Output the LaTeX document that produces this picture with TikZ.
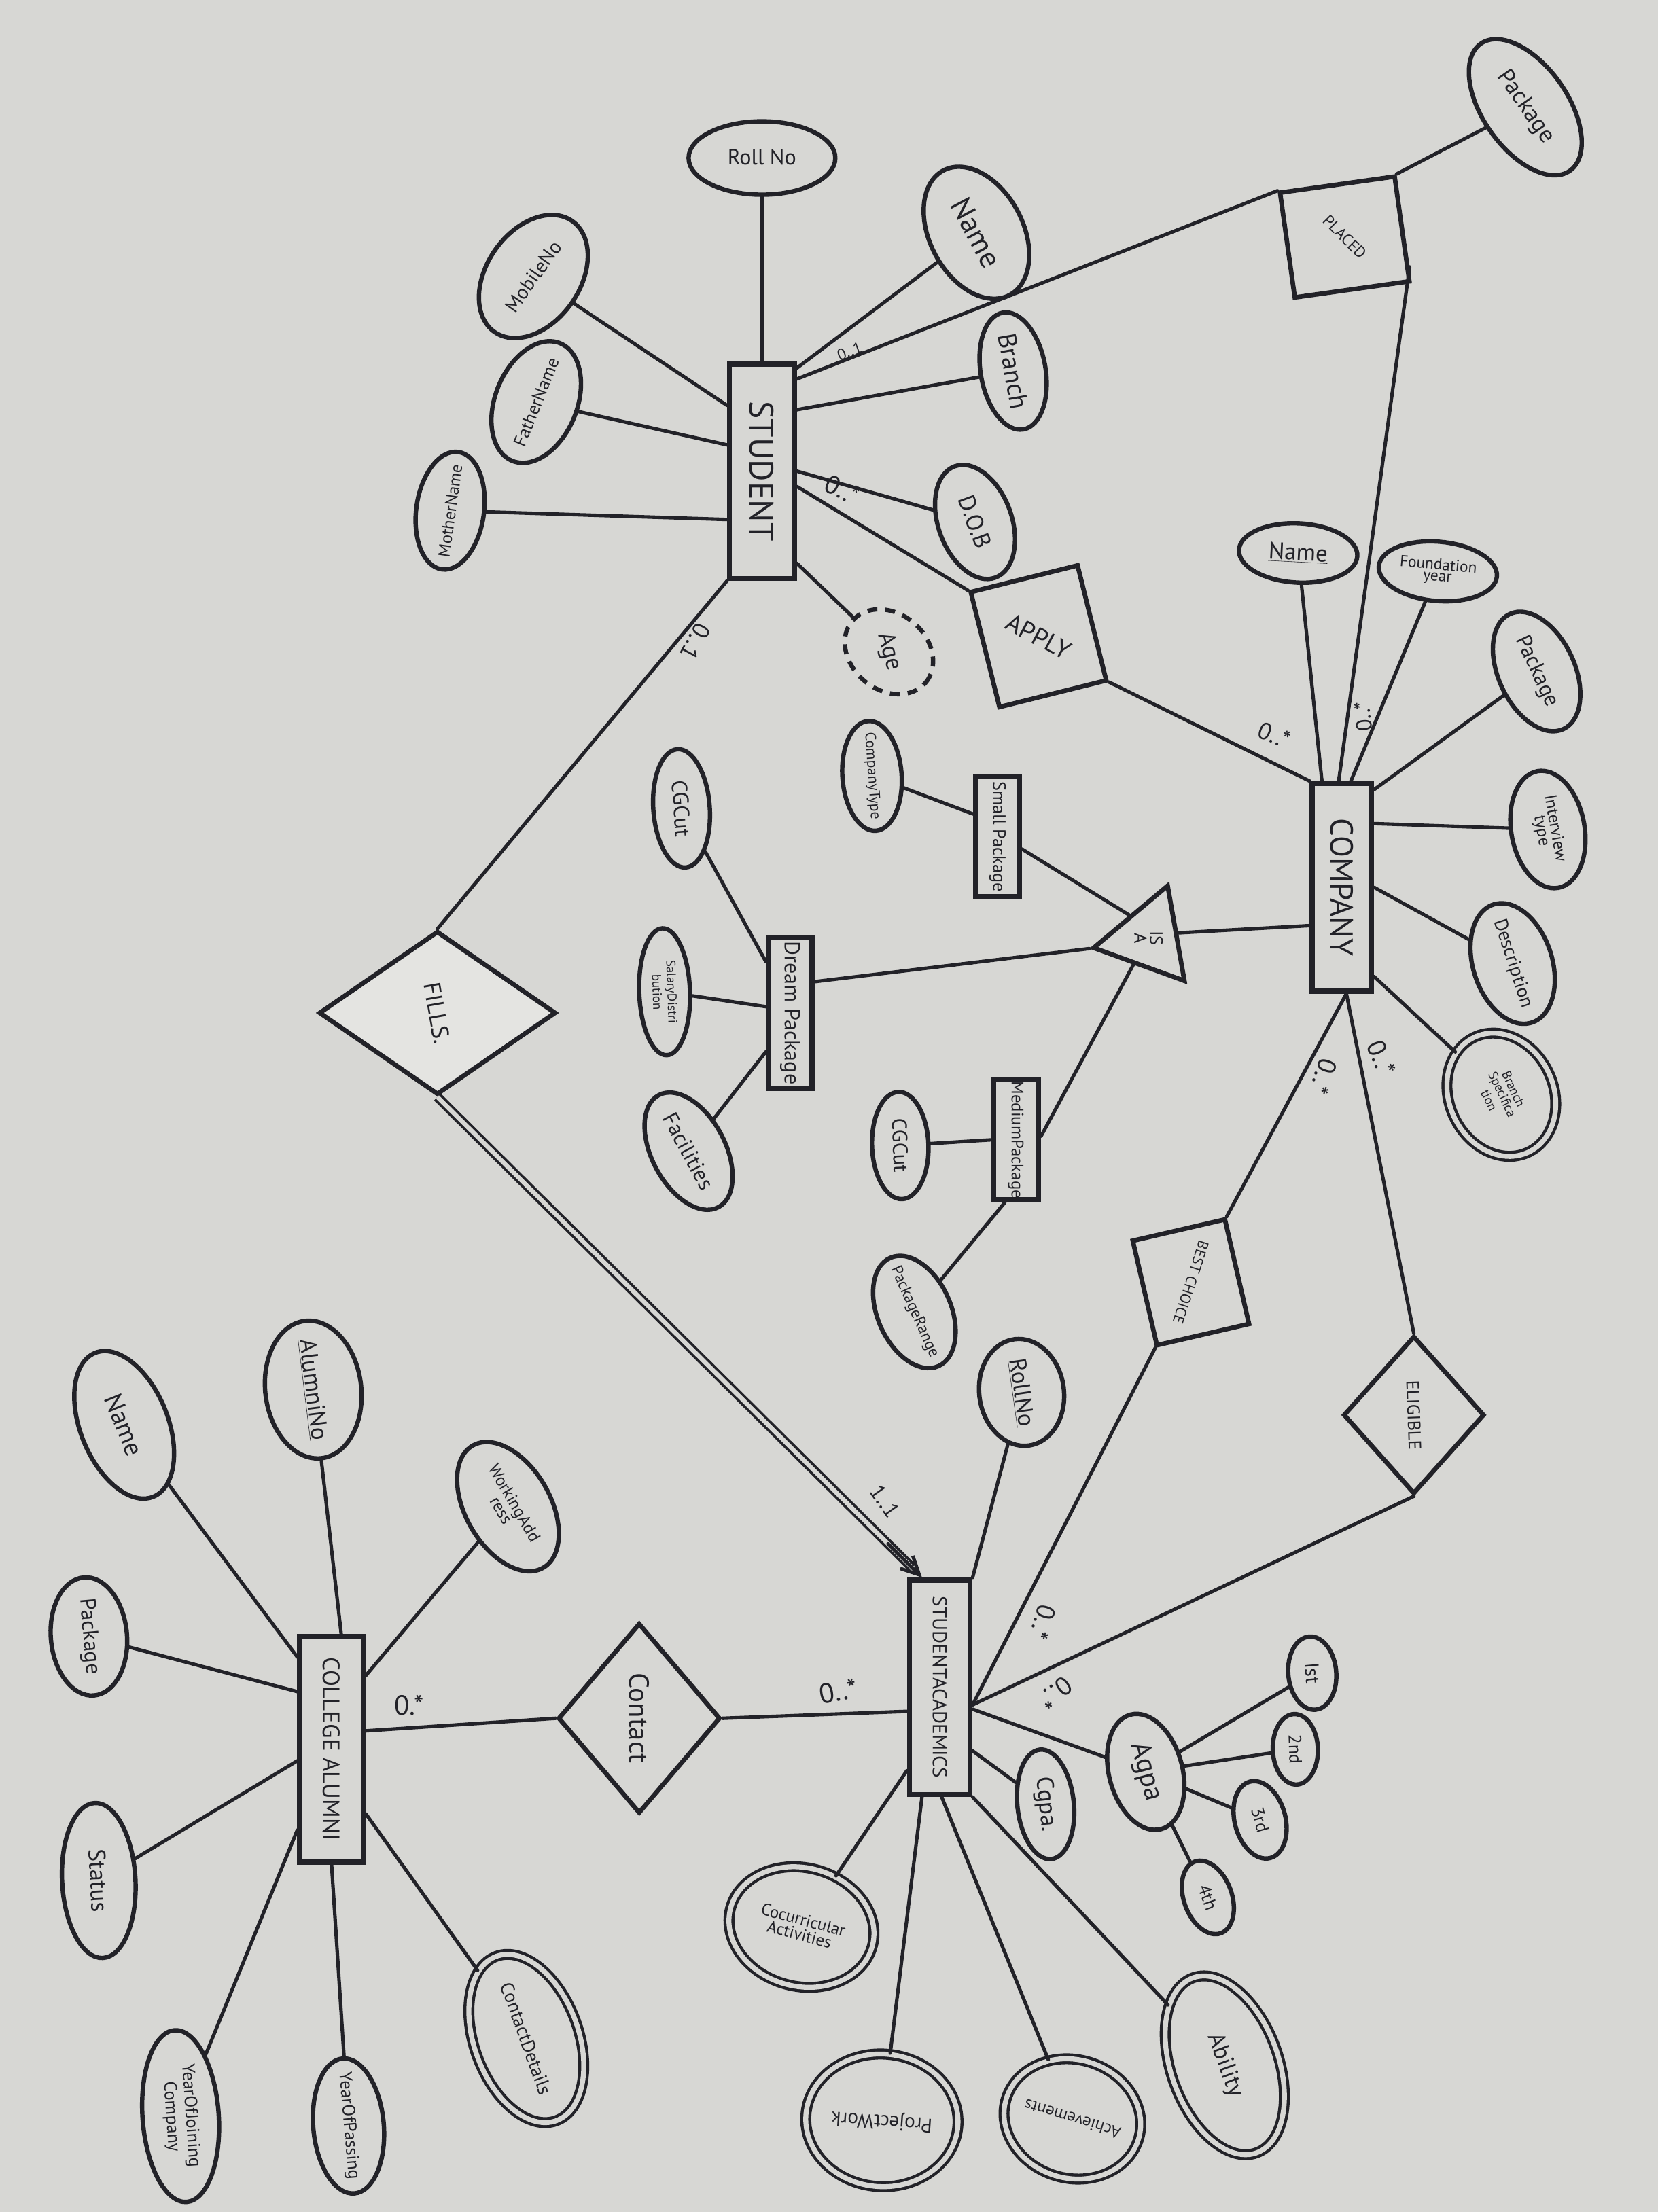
\documentclass[tikz,border=0pt]{standalone}
\usepackage{fontspec}
\setmainfont{PT Sans}
\usepackage{graphicx}
\usetikzlibrary{shapes.geometric,calc,arrows.meta}
\definecolor{paper}{RGB}{215,215,212}
\definecolor{inkc}{RGB}{34,34,40}
\definecolor{whiteout}{RGB}{228,228,225}
\newcommand{\fs}[1]{\fontsize{#1}{#1}\selectfont}
\newcommand{\zt}[1]{\makebox[0pt]{#1}}
\newcommand{\vt}[1]{\rotatebox{-90}{#1}}
\tikzset{
  ent/.style={rectangle, draw=inkc, line width=5.2pt, inner sep=0pt, text=inkc},
  attr/.style={ellipse, draw=inkc, line width=4.4pt, inner sep=0pt, text=inkc},
  multi/.style={attr, line width=3pt, double=paper, double distance=5pt},
  derived/.style={attr, dash pattern=on 10pt off 8pt},
  rel/.style={draw=inkc, line width=4.6pt, inner sep=0pt, text=inkc},
  conn/.style={draw=inkc, line width=3.5pt, line cap=round},
  card/.style={text=inkc, inner sep=0pt},
}
\begin{document}
\begin{tikzpicture}[x=0.05cm, y=-0.05cm]
\fill[paper] (0,0) rectangle (1175,1568);
\useasboundingbox (0,0) rectangle (1175,1568);

% ---------- entities ----------
\node[ent, minimum width=2.3cm, minimum height=7.6cm] (stu) at (540,334) {\vt{\fs{34}STUDENT}};
\node[ent, minimum width=2.1cm, minimum height=7.35cm] (comp) at (951,629) {\vt{\fs{32}COMPANY}};
\node[ent, minimum width=2.15cm, minimum height=7.6cm] (sa) at (666,1196) {\vt{\fs{20}STUDENTACADEMICS}};
\node[ent, minimum width=2.25cm, minimum height=8cm] (alum) at (235,1240) {\vt{\fs{24}COLLEGE ALUMNI}};
\node[ent, minimum width=1.55cm, minimum height=4.25cm] (smPkg) at (707,593) {\vt{\fs{18}Small Package}};
\node[ent, minimum width=1.55cm, minimum height=5.35cm] (drPkg) at (560,718) {\vt{\fs{22}Dream Package}};
\node[ent, minimum width=1.6cm, minimum height=4.25cm] (mdPkg) at (720,808) {\vt{\fs{17}MediumPackage}};

% ---------- relationships ----------
\node[rel, rectangle, minimum width=4.1cm, minimum height=3.75cm, rotate=8] (placed) at (953,168) {\rotatebox{-53}{\fs{16}PLACED}};
\node[rel, rectangle, minimum width=3.9cm, minimum height=4.2cm, rotate=14] (apply) at (736,451) {\rotatebox{-42}{\fs{26}APPLY}};
\node[rel, rectangle, minimum width=3.35cm, minimum height=3.8cm, rotate=13] (best) at (844,909) {\rotatebox{-121}{\fs{15}BEST CHOICE}};
\node[rel, diamond, minimum width=5cm, minimum height=5.6cm] (elig) at (1002,1003) {\rotatebox{-88}{\fs{18}ELIGIBLE}};
\node[rel, diamond, fill=whiteout, minimum width=8.4cm, minimum height=5.8cm] (fills) at (310,718) {\rotatebox{-80}{\fs{24}FILLS.}};
\node[rel, diamond, minimum width=5.75cm, minimum height=6.75cm] (contact) at (453,1218) {\vt{\fs{28}Contact}};
\node[rel, regular polygon, regular polygon sides=3, minimum size=3.95cm, rotate=100] (isa) at (814,665) {\rotatebox{-190}{\fs{18}\shortstack{IS\\A}}};

% ---------- student attributes ----------
\node[attr, minimum width=5.2cm, minimum height=2.6cm] (sRoll) at (540,112) {\zt{\fs{22}\underline{Roll No}}};
\node[attr, minimum width=4.8cm, minimum height=3.3cm, rotate=55] (sMobile) at (378,196) {\zt{\fs{20}MobileNo}};
\node[attr, minimum width=4.5cm, minimum height=2.9cm, rotate=68] (sFather) at (380,285) {\zt{\fs{18}FatherName}};
\node[attr, minimum width=4.2cm, minimum height=2.4cm, rotate=82] (sMother) at (319,362) {\zt{\fs{17}MotherName}};
\node[attr, minimum width=5.0cm, minimum height=3.3cm, rotate=-62] (sName) at (692,165) {\zt{\fs{30}Name}};
\node[attr, minimum width=4.2cm, minimum height=2.3cm, rotate=-80] (sBranch) at (718,263) {\zt{\fs{26}Branch}};
\node[attr, minimum width=4.2cm, minimum height=2.6cm, rotate=-70] (sDOB) at (691,370) {\zt{\fs{24}D.O.B}};
\node[derived, minimum width=3.4cm, minimum height=2.7cm, rotate=-40] (sAge) at (630,462) {\zt{\rotatebox{-35}{\fs{24}Age}}};
\node[attr, minimum width=5.5cm, minimum height=3.0cm, rotate=-55] (tPkg) at (1081,76) {\zt{\fs{24}Package}};

% ---------- company attributes ----------
\node[attr, minimum width=4.2cm, minimum height=2.1cm, rotate=-3] (cName) at (920,392) {\zt{\fs{24}\underline{Name}}};
\node[attr, minimum width=4.2cm, minimum height=2.1cm, rotate=-5] (cFound) at (1019,405) {\zt{\fs{16}\shortstack{Foundation\\year}}};
\node[attr, minimum width=4.5cm, minimum height=2.7cm, rotate=-65] (cPkg) at (1089,476) {\zt{\fs{22}Package}};
\node[attr, minimum width=4.2cm, minimum height=2.6cm, rotate=-80] (cInt) at (1097,588) {\zt{\fs{17}\shortstack{Interview\\type}}};
\node[attr, minimum width=4.4cm, minimum height=2.8cm, rotate=-72] (cDesc) at (1072,683) {\zt{\fs{19}Description}};
\node[multi, minimum width=4.5cm, minimum height=3.7cm, rotate=-65] (cBranch) at (1064,776) {\zt{\fs{13}\shortstack{Branch\\Specifica\\tion}}};

% ---------- package sub-entity attributes ----------
\node[attr, minimum width=4.2cm, minimum height=2.0cm, rotate=-86] (dCG) at (483,573) {\zt{\fs{22}CGCut}};
\node[attr, minimum width=4.5cm, minimum height=1.8cm, rotate=-88] (dSal) at (471,703) {\zt{\fs{13}\shortstack{SalaryDistri\\bution}}};
\node[attr, minimum width=4.5cm, minimum height=2.6cm, rotate=-62] (dFac) at (488,816) {\zt{\fs{22}Facilities}};
\node[attr, minimum width=3.9cm, minimum height=2.1cm, rotate=-86] (smType) at (618,550) {\zt{\fs{15}CompanyType}};
\node[attr, minimum width=3.8cm, minimum height=2.0cm, rotate=-88] (mCG) at (638,812) {\zt{\fs{21}CGCut}};
\node[attr, minimum width=4.2cm, minimum height=2.6cm, rotate=-66] (mRange) at (648,930) {\zt{\fs{16}PackageRange}};

% ---------- student academics attributes ----------
\node[attr, minimum width=3.8cm, minimum height=3.0cm, rotate=-82] (aRoll) at (724,987) {\zt{\fs{24}\underline{RollNo}}};
\node[attr, minimum width=4.2cm, minimum height=2.6cm, rotate=-75] (aAgpa) at (812,1256) {\zt{\fs{28}Agpa}};
\node[attr, minimum width=2.6cm, minimum height=1.7cm, rotate=-85] (a1) at (930,1186) {\zt{\fs{20}Ist}};
\node[attr, minimum width=2.5cm, minimum height=1.6cm, rotate=-88] (a2) at (918,1240) {\zt{\fs{18}2nd}};
\node[attr, minimum width=2.8cm, minimum height=1.8cm, rotate=-75] (a3) at (893,1290) {\zt{\fs{18}3rd}};
\node[attr, minimum width=2.7cm, minimum height=1.7cm, rotate=-70] (a4) at (856,1345) {\zt{\fs{18}4th}};
\node[attr, minimum width=3.9cm, minimum height=2.0cm, rotate=-84] (aCgpa) at (741,1279) {\zt{\fs{24}Cgpa.}};
\node[multi, minimum width=5.2cm, minimum height=4.2cm, rotate=-15] (aCoc) at (568,1366) {\zt{\fs{17}\shortstack{Cocurricular\\Activities}}};
\node[multi, minimum width=5.4cm, minimum height=4.7cm, rotate=176] (aProj) at (625,1503) {\zt{\fs{20}ProjectWork}};
\node[multi, minimum width=4.9cm, minimum height=4.2cm, rotate=163] (aAch) at (760,1502) {\zt{\fs{17}Achievements}};
\node[multi, minimum width=6.6cm, minimum height=3.8cm, rotate=-70] (aAbil) at (868,1464) {\zt{\fs{24}Ability}};

% ---------- alumni attributes ----------
\node[attr, minimum width=4.9cm, minimum height=3.4cm, rotate=-83] (alNo) at (222,985) {\zt{\fs{24}\underline{AlumniNo}}};
\node[attr, minimum width=5.5cm, minimum height=3.1cm, rotate=-68] (alName) at (88,1010) {\zt{\fs{26}Name}};
\node[attr, minimum width=5.0cm, minimum height=3.0cm, rotate=-60] (alWork) at (360,1068) {\zt{\fs{17}\shortstack{WorkingAdd\\ress}}};
\node[attr, minimum width=4.2cm, minimum height=2.7cm, rotate=-85] (alPkg) at (63,1160) {\zt{\fs{22}Package}};
\node[attr, minimum width=5.5cm, minimum height=2.6cm, rotate=-87] (alStatus) at (70,1333) {\zt{\fs{24}Status}};
\node[attr, minimum width=6.1cm, minimum height=2.7cm, rotate=-86] (alJoin) at (128,1500) {\zt{\fs{18}\shortstack{YearOfJoining\\Company}}};
\node[attr, minimum width=4.8cm, minimum height=2.5cm, rotate=-85] (alPass) at (247,1507) {\zt{\fs{18}YearOfPassing}};
\node[multi, minimum width=6.2cm, minimum height=3.7cm, rotate=-70] (alCont) at (373,1445) {\zt{\fs{19}ContactDetails}};

% ---------- connectors: student ----------
\draw[conn] (sRoll) -- (stu.north);
\draw[conn] (sMobile) -- ($(stu.north west)!0.2!(stu.south west)$);
\draw[conn] (sFather) -- ($(stu.north west)!0.38!(stu.south west)$);
\draw[conn] (sMother) -- ($(stu.north west)!0.72!(stu.south west)$);
\draw[conn] (sName) -- ($(stu.north east)!0.03!(stu.south east)$);
\draw[conn] ($(stu.north east)!0.08!(stu.south east)$) -- (placed.north west);
\draw[conn] (sBranch) -- ($(stu.north east)!0.22!(stu.south east)$);
\draw[conn] (sDOB) -- ($(stu.north east)!0.5!(stu.south east)$);
\draw[conn] ($(stu.north east)!0.57!(stu.south east)$) -- (apply.north west);
\draw[conn] (sAge) -- ($(stu.north east)!0.92!(stu.south east)$);
\draw[conn] (stu.south west) -- (fills.north);
\draw[conn] (placed.north east) -- (tPkg);

% ---------- connectors: company ----------
\draw[conn] ($(placed.north east)!0.85!(placed.south east)$) -- ($(comp.north west)!0.45!(comp.north east)$);
\draw[conn] (apply.south east) -- (comp.north west);
\draw[conn] (cName) -- ($(comp.north west)!0.19!(comp.north east)$);
\draw[conn] (cFound) -- ($(comp.north west)!0.64!(comp.north east)$);
\draw[conn] (cPkg) -- ($(comp.north east)!0.04!(comp.south east)$);
\draw[conn] (cInt) -- ($(comp.north east)!0.2!(comp.south east)$);
\draw[conn] (cDesc) -- ($(comp.north east)!0.5!(comp.south east)$);
\draw[conn] (cBranch) -- ($(comp.north east)!0.92!(comp.south east)$);
\draw[conn] ($(isa.corner 2)!0.5!(isa.corner 3)$) -- ($(comp.north west)!0.68!(comp.south west)$);
\draw[conn] ($(comp.south west)!0.57!(comp.south east)$) -- (best.north east);
\draw[conn] ($(comp.south west)!0.57!(comp.south east)$) -- (elig.north);

% ---------- connectors: IS A hierarchy ----------
\draw[conn] ($(smPkg.north east)!0.6!(smPkg.south east)$) -- ($(isa.corner 1)!0.5!(isa.corner 3)$);
\draw[conn] ($(drPkg.north east)!0.3!(drPkg.south east)$) -- (isa.corner 1);
\draw[conn] ($(mdPkg.north east)!0.47!(mdPkg.south east)$) -- ($(isa.corner 1)!0.45!(isa.corner 2)$);
\draw[conn] (smType) -- ($(smPkg.north west)!0.32!(smPkg.south west)$);
\draw[conn] (dCG) -- ($(drPkg.north west)!0.17!(drPkg.south west)$);
\draw[conn] (dSal) -- ($(drPkg.north west)!0.46!(drPkg.south west)$);
\draw[conn] (dFac) -- ($(drPkg.north west)!0.75!(drPkg.south west)$);
\draw[conn] (mCG) -- ($(mdPkg.north west)!0.5!(mdPkg.south west)$);
\draw[conn] (mRange) -- ($(mdPkg.south west)!0.28!(mdPkg.south east)$);

% ---------- connectors: student academics ----------
\coordinate (saIn) at ($(sa.north west)!0.23!(sa.north east)$);
\draw[draw=inkc, line width=2.6pt, double=paper, double distance=4.5pt, shorten >=14pt] (fills.south) -- (saIn);
\draw[conn, -{Straight Barb[length=18pt,width=18pt]}] ($(fills.south)!0.93!(saIn)$) -- (saIn);
\draw[conn] (aRoll) -- (sa.north east);
\draw[conn] (best.south west) -- ($(sa.north east)!0.58!(sa.south east)$);
\draw[conn] (elig.south) -- ($(sa.north east)!0.58!(sa.south east)$);
\draw[conn] (aAgpa) -- ($(sa.north east)!0.6!(sa.south east)$);
\draw[conn] (aAgpa) -- (a1);
\draw[conn] (aAgpa) -- (a2);
\draw[conn] (aAgpa) -- (a3);
\draw[conn] (aAgpa) -- (a4);
\draw[conn] (aCgpa) -- ($(sa.north east)!0.79!(sa.south east)$);
\draw[conn] (aAbil) -- (sa.south east);
\draw[conn] (aAch) -- ($(sa.south west)!0.53!(sa.south east)$);
\draw[conn] (aProj) -- ($(sa.south west)!0.23!(sa.south east)$);
\draw[conn] (aCoc) -- ($(sa.north west)!0.88!(sa.south west)$);
\draw[conn] (contact.east) -- ($(sa.north west)!0.61!(sa.south west)$);

% ---------- connectors: alumni ----------
\draw[conn] (alNo) -- ($(alum.north west)!0.64!(alum.north east)$);
\draw[conn] (alName) -- ($(alum.north west)!0.1!(alum.south west)$);
\draw[conn] (alWork) -- ($(alum.north east)!0.18!(alum.south east)$);
\draw[conn] (alPkg) -- ($(alum.north west)!0.25!(alum.south west)$);
\draw[conn] (alStatus) -- ($(alum.north west)!0.55!(alum.south west)$);
\draw[conn] (alJoin) -- ($(alum.north west)!0.85!(alum.south west)$);
\draw[conn] (alPass) -- ($(alum.south west)!0.5!(alum.south east)$);
\draw[conn] (alCont) -- ($(alum.north east)!0.78!(alum.south east)$);
\draw[conn] ($(alum.north east)!0.42!(alum.south east)$) -- (contact.west);

% ---------- cardinalities ----------
\node[card, rotate=20] (k1) at (602,249) {\fs{16}0..1};
\node[card, rotate=-26] (k2) at (597,347) {\fs{26}0..*};
\node[card, rotate=-118] (k3) at (493,455) {\fs{24}0..1};
\node[card, rotate=95] (k4) at (966,508) {\fs{22}0..*};
\node[card, rotate=-22] (k5) at (903,521) {\fs{24}0..*};
\node[card, rotate=-108] (k6) at (938,763) {\fs{26}0..*};
\node[card, rotate=-68] (k7) at (979,750) {\fs{26}0..*};
\node[card, rotate=-55] (k8) at (627,1064) {\fs{22}1..1};
\node[card, rotate=-107] (k9) at (739,1150) {\fs{26}0..*};
\node[card, rotate=-143] (k10) at (748,1200) {\fs{26}0..*};
\node[card, rotate=10] (k11) at (594,1199) {\fs{28}0..*};
\node[card] (k12) at (290,1209) {\fs{28}0.*};
\end{tikzpicture}
\end{document}
